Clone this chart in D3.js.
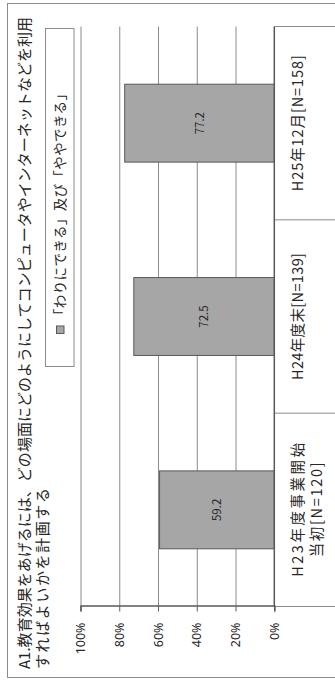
<!DOCTYPE html>
<html>
<head>
<meta charset="utf-8">
<script src="https://cdn.jsdelivr.net/npm/d3@7"></script>
<style>
  body { margin: 0; background: #fff; }
  svg { display: block; }
  text { fill: #262626; font-family: "Noto Sans CJK JP", "Noto Sans", sans-serif; }
</style>
</head>
<body>
<script>
// data
const categories = ['H23年度事業開始\n当初[N=120]', 'H24年度末[N=139]', 'H25年12月[N=158]'];
const values = [59.2, 72.5, 77.2];
const yTicks = [0, 20, 40, 60, 80, 100];
const titleLines = ['A1.教育効果をあげるには、どの場面にどのようにしてコンピュータやインターネットなどを利用', 'すればよいかを計画する'];
const seriesName = '「わりにできる」及び「ややできる」';

// layout (chart is laid out landscape 684x335, then turned a quarter left)
const W = 335, H = 684;
const plot = {left: 77.5, right: 657.5, top: 80.5, bottom: 274.3};
const titleLen = [652, 181];
const catLineLen = [[134, 95], [127], [136]];

const svg = d3.select('body').append('svg')
  .attr('width', W)
  .attr('height', H);

const chart = svg.append('g')
  .attr('transform', `translate(0, ${H}) rotate(-90)`);

const x = d3.scaleBand().domain(categories).range([plot.left, plot.right]);
const y = d3.scaleLinear().domain([0, 100]).range([plot.bottom, plot.top]);

// outer frame
chart.append('rect')
  .attr('x', 6.5).attr('y', 7.5)
  .attr('width', 674).attr('height', 345)
  .attr('fill', 'none')
  .attr('stroke', '#8c8c8c');

// title
chart.append('g').selectAll('text').data(titleLines).join('text')
  .attr('x', 15)
  .attr('y', (d, i) => 30 + i * 17.5)
  .attr('font-size', 15)
  .attr('textLength', (d, i) => titleLen[i])
  .attr('lengthAdjust', 'spacing')
  .text((d) => d);

// gridlines
const grid = chart.append('g')
  .attr('transform', `translate(${plot.left}, 0)`)
  .call(d3.axisLeft(y).tickValues(yTicks.slice(1)).tickSize(-(plot.right - plot.left)).tickFormat(''));
grid.select('.domain').remove();
grid.selectAll('line').attr('stroke', '#8c8c8c');

// category separators running down through the label area
const bounds = categories.map((c) => x(c)).concat([plot.right]);
chart.append('g').selectAll('line').data(bounds).join('line')
  .attr('x1', (d) => d).attr('x2', (d) => d)
  .attr('y1', plot.bottom).attr('y2', 352)
  .attr('stroke', '#8c8c8c');

// bars
const barW = x.bandwidth() * 0.403;
chart.append('g').selectAll('rect').data(values).join('rect')
  .attr('x', (d, i) => x(categories[i]) + (x.bandwidth() - barW) / 2)
  .attr('y', (d) => y(d))
  .attr('width', barW)
  .attr('height', (d) => y(0) - y(d))
  .attr('fill', '#a6a6a6')
  .attr('stroke', '#595959');

// value labels
chart.append('g').selectAll('text').data(values).join('text')
  .attr('x', (d, i) => x(categories[i]) + x.bandwidth() / 2)
  .attr('y', (d) => (y(d) + y(0)) / 2)
  .attr('dy', '0.35em')
  .attr('text-anchor', 'middle')
  .attr('font-size', 11.5)
  .text((d) => d.toFixed(1));

// value axis
const yAxis = chart.append('g')
  .attr('transform', `translate(${plot.left}, 0)`)
  .call(d3.axisLeft(y).tickValues(yTicks).tickSize(5).tickPadding(11).tickFormat((d) => d + '%'));
yAxis.select('.domain').attr('stroke', '#595959').attr('stroke-width', 1.5);
yAxis.selectAll('line').attr('stroke', '#595959');
yAxis.selectAll('text')
  .attr('fill', '#262626')
  .style('font-family', '"Noto Sans", sans-serif')
  .attr('font-size', 12.5);

// category axis line
chart.append('line')
  .attr('x1', plot.left).attr('x2', plot.right)
  .attr('y1', plot.bottom).attr('y2', plot.bottom)
  .attr('stroke', '#595959')
  .attr('stroke-width', 1.5);

// category labels
const catText = chart.append('g').selectAll('text').data(categories).join('text')
  .attr('text-anchor', 'middle')
  .attr('font-size', 14.5);
catText.selectAll('tspan').data((d, i) => d.split('\n').map((s, j) => ({s, i, j}))).join('tspan')
  .attr('x', (d) => x(categories[d.i]) + x.bandwidth() / 2)
  .attr('y', (d) => 302.5 + d.j * 19)
  .attr('textLength', (d) => catLineLen[d.i][d.j])
  .attr('lengthAdjust', 'spacing')
  .text((d) => d.s);

// legend
const legend = chart.append('g');
legend.append('rect')
  .attr('x', 317.5).attr('y', 45.5)
  .attr('width', 338).attr('height', 28.5)
  .attr('fill', '#fff')
  .attr('stroke', '#8c8c8c');
legend.append('rect')
  .attr('x', 350.5).attr('y', 56.5)
  .attr('width', 7.5).attr('height', 7.5)
  .attr('fill', '#a6a6a6')
  .attr('stroke', '#595959');
legend.append('text')
  .attr('x', 362)
  .attr('y', 65)
  .attr('font-size', 13.5)
  .attr('textLength', 235)
  .attr('lengthAdjust', 'spacing')
  .text(seriesName);
</script>
</body>
</html>
